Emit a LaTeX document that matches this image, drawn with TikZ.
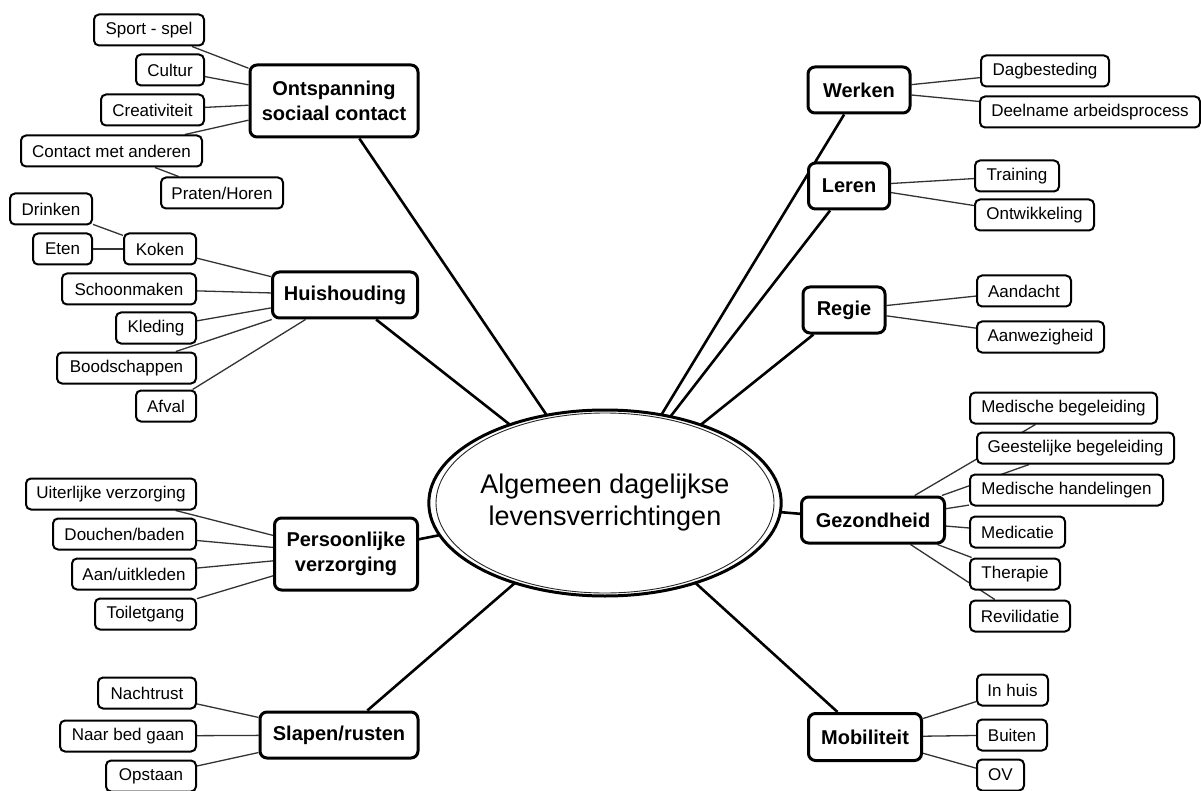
\documentclass[tikz,border=0pt]{standalone}
\usepackage{fontspec}
\setmainfont{Liberation Sans}
\usetikzlibrary{shapes.geometric}
\pgfdeclarelayer{background}
\pgfsetlayers{background,main}
\begin{document}
\begin{tikzpicture}[x=1pt,y=-1pt,
  leaf/.style={draw, line width=2pt, rounded corners=5pt, fill=white, minimum height=31pt, inner xsep=4pt, inner ysep=0pt, font=\fontsize{17}{19}\selectfont},
  mainbox/.style={draw, line width=3pt, rounded corners=7pt, fill=white, minimum height=46pt, inner xsep=4pt, inner ysep=0pt, align=center, font=\fontsize{20}{25}\selectfont\bfseries},
  spoke/.style={line width=2.6pt},
  twig/.style={line width=1.3pt, black!80},
]
\useasboundingbox (0,0) rectangle (1201,791);

% centre
\node[ellipse, draw, line width=3pt, fill=white, minimum width=344pt, minimum height=186pt, inner sep=0pt, align=center, font=\fontsize{27}{32}\selectfont] (E) at (605,503) {Algemeen dagelijkse\\levensverrichtingen};
\draw[line width=0.9pt, black!85] (E.center) ellipse [x radius=169pt, y radius=90pt];

% main nodes
\node[mainbox, minimum width=168pt, minimum height=72pt] (ont) at (334,101) {Ontspanning\\sociaal contact};
\node[mainbox, minimum width=145pt] (huis) at (345,295) {Huishouding};
\node[mainbox, minimum width=143pt, minimum height=72pt] (pers) at (346,554) {Persoonlijke\\verzorging};
\node[mainbox, minimum width=158pt] (slap) at (339,735) {Slapen/rusten};
\node[mainbox, minimum width=102pt] (werk) at (859,90) {Werken};
\node[mainbox, minimum width=81pt] (leren) at (849,186) {Leren};
\node[mainbox, minimum width=82pt] (regie) at (844,310) {Regie};
\node[mainbox, minimum width=143pt] (gez) at (873,520) {Gezondheid};
\node[mainbox, minimum width=113pt, minimum height=47pt] (mob) at (865,737) {Mobiliteit};

% left leaves
\node[leaf, anchor=east, minimum width=110pt] (sport) at (205,30) {Sport - spel};
\node[leaf, anchor=east, minimum width=68pt] (cultur) at (205,70) {Cultur};
\node[leaf, anchor=east, minimum width=103pt] (creat) at (205,110) {Creativiteit};
\node[leaf, anchor=east, minimum width=181pt] (contact) at (203,151) {Contact met anderen};
\node[leaf, minimum width=122pt] (praten) at (222,193) {Praten/Horen};
\node[leaf, minimum width=82pt] (drinken) at (51,209) {Drinken};
\node[leaf, minimum width=59pt] (eten) at (62.5,249) {Eten};
\node[leaf, anchor=east, minimum width=72pt] (koken) at (197,249) {Koken};
\node[leaf, anchor=east, minimum width=134pt] (schoon) at (197,289) {Schoonmaken};
\node[leaf, anchor=east, minimum width=80pt] (kleding) at (197,328) {Kleding};
\node[leaf, anchor=east, minimum width=139pt] (bood) at (197,368) {Boodschappen};
\node[leaf, anchor=east, minimum width=60pt] (afval) at (197,406) {Afval};
\node[leaf, anchor=east, minimum width=170pt] (uiter) at (197,494) {Uiterlijke verzorging};
\node[leaf, anchor=east, minimum width=143pt] (douchen) at (197,534) {Douchen/baden};
\node[leaf, anchor=east, minimum width=124pt] (aan) at (197,574) {Aan/uitkleden};
\node[leaf, anchor=east, minimum width=101pt] (toilet) at (197,614) {Toiletgang};
\node[leaf, anchor=east, minimum width=98pt] (nacht) at (197,693) {Nachtrust};
\node[leaf, anchor=east, minimum width=136pt] (naar) at (197,736) {Naar bed gaan};
\node[leaf, anchor=east, minimum width=90pt] (opstaan) at (197,776) {Opstaan};

% right leaves
\node[leaf, anchor=west, minimum width=128pt] (dag) at (980,71) {Dagbesteding};
\node[leaf, anchor=west, minimum width=220pt] (deel) at (979,112) {Deelname arbeidsprocess};
\node[leaf, anchor=west, minimum width=84pt] (train) at (974,176) {Training};
\node[leaf, anchor=west, minimum width=119pt] (ontw) at (974,215) {Ontwikkeling};
\node[leaf, anchor=west, minimum width=94pt] (aand) at (976,291) {Aandacht};
\node[leaf, anchor=west, minimum width=127pt] (aanw) at (976,337) {Aanwezigheid};
\node[leaf, anchor=west, minimum width=187pt] (medb) at (969,408) {Medische begeleiding};
\node[leaf, anchor=west, minimum width=197pt] (geest) at (976,448) {Geestelijke begeleiding};
\node[leaf, anchor=west, minimum width=193pt] (medh) at (969,490) {Medische handelingen};
\node[leaf, anchor=west, minimum width=95pt] (medic) at (969,532) {Medicatie};
\node[leaf, anchor=west, minimum width=90pt] (ther) at (969,574) {Therapie};
\node[leaf, anchor=west, minimum width=100pt] (rev) at (969,616) {Revilidatie};
\node[leaf, anchor=west, minimum width=71pt] (inhuis) at (976,690) {In huis};
\node[leaf, anchor=west, minimum width=70pt] (buiten) at (976,735) {Buiten};
\node[leaf, anchor=west, minimum width=47pt] (ov) at (976,775) {OV};

% spoke targets inside the ellipse
\coordinate (tont) at (552,423);
\coordinate (thuis) at (518,431);
\coordinate (twerk) at (657,422);
\coordinate (tleren) at (667,421);
\coordinate (tregie) at (698,427);
\coordinate (tpers) at (455,532);
\coordinate (tslap) at (523,576);
\coordinate (tgez) at (767,511);
\coordinate (tmob) at (690,578);

\begin{pgfonlayer}{background}
  \fill[white] (0,0) rectangle (1201,791);
  \draw[spoke] (ont) -- (tont);
  \draw[spoke] (huis) -- (thuis);
  \draw[spoke] (werk) -- (twerk);
  \draw[spoke] (leren) -- (tleren);
  \draw[spoke] (regie) -- (tregie);
  \draw[spoke] (pers) -- (tpers);
  \draw[spoke] (slap) -- (tslap);
  \draw[spoke] (gez) -- (tgez);
  \draw[spoke] (mob) -- (tmob);

  \foreach \n in {sport,cultur,creat,contact} \draw[twig] (ont) -- (\n);
  \draw[twig] (contact) -- (praten);
  \foreach \n in {koken,schoon,kleding,bood,afval} \draw[twig] (huis) -- (\n);
  \draw[twig] (koken) -- (drinken);
  \draw[twig] (koken) -- (eten);
  \foreach \n in {uiter,douchen,aan,toilet} \draw[twig] (pers) -- (\n);
  \foreach \n in {nacht,naar,opstaan} \draw[twig] (slap) -- (\n);
  \foreach \n in {dag,deel} \draw[twig] (werk) -- (\n);
  \foreach \n in {train,ontw} \draw[twig] (leren) -- (\n);
  \foreach \n in {aand,aanw} \draw[twig] (regie) -- (\n);
  \foreach \n in {medb,geest,medh,medic,ther,rev} \draw[twig] (gez) -- (\n);
  \foreach \n in {inhuis,buiten,ov} \draw[twig] (mob) -- (\n);
\end{pgfonlayer}
\end{tikzpicture}
\end{document}
